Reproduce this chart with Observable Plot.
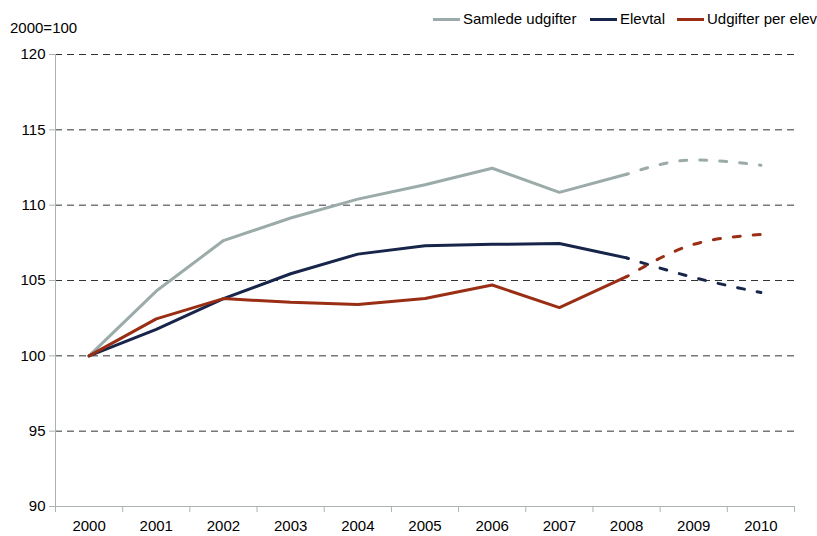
<!DOCTYPE html>
<html><head><meta charset="utf-8">
<script src="https://cdn.jsdelivr.net/npm/d3@7"></script>
<script src="https://cdn.jsdelivr.net/npm/@observablehq/plot@0.6"></script>
<style>
body{margin:0;background:#fff;font-family:"Liberation Sans",Arial,sans-serif;}
#wrap{position:relative;width:817px;height:536px;}
.lbl{position:absolute;font-size:15px;color:#000;white-space:nowrap;}
.sw{position:absolute;height:3px;width:27px;}
svg text{font-family:"Liberation Sans",Arial,sans-serif;}
</style></head><body>
<div id="wrap"></div>
<script>
const years = [2000,2001,2002,2003,2004,2005,2006,2007,2008,2009,2010];
const seriesNames = ["Samlede udgifter","Elevtal","Udgifter per elev"];
const samlede = [100,104.3,107.65,109.15,110.4,111.35,112.45,110.85,112.05,113.0,112.65];
const elevtal = [100,101.75,103.8,105.45,106.75,107.3,107.4,107.45,106.5,105.2,104.2];
const perElev = [100,102.45,103.8,103.55,103.4,103.8,104.7,103.2,105.25,107.4,108.05];
const colors = ["#9BABAA","#17254A","#992E14"];
const yTicks = [90,95,100,105,110,115,120];
const actualEnd = 2008;

const all = [samlede, elevtal, perElev];
const rows = [];
all.forEach((vals, s) => years.forEach((yr, i) => rows.push({series: seriesNames[s], year: yr, value: vals[i]})));
const solid = rows.filter(d => d.year <= actualEnd);
const proj = rows.filter(d => d.year >= actualEnd);
const bounds = years.concat([years[years.length-1]+1]).map(y => y - 0.5);

const plot = Plot.plot({
  width: 817, height: 536,
  marginTop: 54, marginBottom: 30, marginLeft: 55, marginRight: 23,
  x: {domain: [years[0]-0.5, years[years.length-1]+0.5]},
  y: {domain: [90,120]},
  color: {domain: seriesNames, range: colors},
  marks: [
    Plot.ruleY(yTicks.filter(v => v > 90), {stroke: "#333", strokeWidth: 1, strokeDasharray: "7,5"}),
    Plot.ruleY([90], {stroke: "#A9B3B3", strokeWidth: 1}),
    Plot.ruleX([years[0]-0.5], {stroke: "#A9B3B3", strokeWidth: 1}),
    Plot.axisY({ticks: yTicks, tickSize: 6, stroke: "#A9B3B3", tickPadding: 4, fontSize: 15, label: null, tickFormat: d => d}),
    Plot.axisX({ticks: bounds, tickSize: 6, stroke: "#A9B3B3", tickFormat: () => "", label: null}),
    Plot.axisX({ticks: years, tickSize: 0, tickPadding: 14, fontSize: 15, tickFormat: d => String(d), label: null}),
    Plot.line(solid, {x: "year", y: "value", z: "series", stroke: "series", strokeWidth: 3, strokeLinejoin: "round"}),
    Plot.line(proj, {x: "year", y: "value", z: "series", stroke: "series", strokeWidth: 3, strokeDasharray: "7,13", strokeDashoffset: 5, curve: "monotone-x"})
  ]
});
const wrap = document.getElementById("wrap");
wrap.appendChild(plot);
plot.style.position = "absolute"; plot.style.left = "0"; plot.style.top = "0";

function addLbl(text, x, y){const d=document.createElement("div");d.className="lbl";d.textContent=text;d.style.left=x+"px";d.style.top=y+"px";wrap.appendChild(d);return d;}
addLbl("2000=100", 10, 19);
const legX = [433, 590, 677];
seriesNames.forEach((n,i) => {
  const s=document.createElement("div");s.className="sw";s.style.left=legX[i]+"px";s.style.top="18px";s.style.background=colors[i];wrap.appendChild(s);
  addLbl(n, legX[i]+30, 10);
});
</script></body></html>
